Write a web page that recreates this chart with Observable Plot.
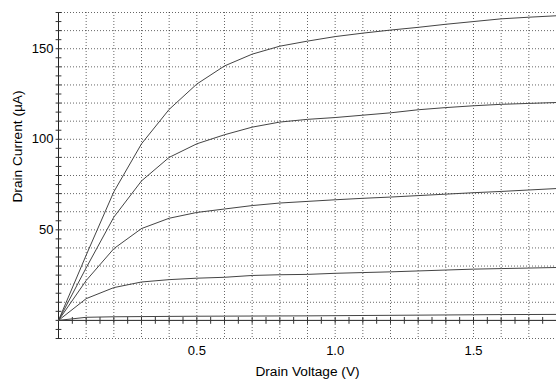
<!DOCTYPE html>
<html><head><meta charset="utf-8">
<script src="https://cdn.jsdelivr.net/npm/d3@7"></script>
<script src="https://cdn.jsdelivr.net/npm/@observablehq/plot@0.6"></script>
<style>html,body{margin:0;padding:0;background:#fff;}</style>
</head><body><div id="chart"></div>
<script>
// Drain voltage samples (V)
const vds = [0, 0.1, 0.2, 0.3, 0.4, 0.5, 0.6, 0.7, 0.8, 0.9, 1.0, 1.1, 1.2, 1.3, 1.4, 1.5, 1.6, 1.7, 1.8];
// Drain current curves (µA), top to bottom
const curve1 = [0, 36, 71, 97.5, 116.5, 130.5, 140.5, 147, 151.4, 154.2, 156.7, 158.6, 160.3, 161.8, 163.5, 165, 166.5, 167.4, 168.2];
const curve2 = [0, 29, 57, 77, 90, 97.5, 102.5, 106.7, 109.5, 111, 112, 113.3, 114.6, 116.3, 117.5, 118.5, 119.3, 119.8, 120.3];
const curve3 = [0, 22, 39.6, 50.7, 56.4, 59.6, 61.5, 63.4, 64.8, 65.7, 66.6, 67.4, 68.1, 68.9, 69.7, 70.5, 71.2, 72, 72.8];
const curve4 = [0, 12, 18.1, 21.2, 22.5, 23.3, 23.8, 24.8, 25.2, 25.4, 26, 26.4, 26.8, 27.3, 27.8, 28.3, 28.6, 28.9, 29.2];
const curve5 = [0, 1.7, 2.0, 2.1, 2.2, 2.3, 2.35, 2.4, 2.45, 2.5, 2.6, 2.7, 2.8, 2.9, 3.0, 3.1, 3.2, 3.25, 3.3];
const curves = [curve1, curve2, curve3, curve4, curve5];

// Tick labels
const xTickLabels = [0.5, 1.0, 1.5];
const yTickLabels = [50, 100, 150];
const xTitle = "Drain Voltage (V)";
const yTitle = "Drain Current (µA)";

// Grid and minor tick positions
const xGrid = d3.range(1, 19).map(k => k / 10);
const yGrid = d3.range(-1, 18).filter(k => k !== 0).map(k => k * 10);
const xMinor = d3.range(1, 37).map(k => k * 0.05);
const yMinor = d3.range(-2, 35).map(k => k * 5);

const rows = curves.flatMap((c, ci) => c.map((i, k) => ({v: vds[k], i, curve: ci})));

const tickShape = {draw(ctx, l) { ctx.moveTo(0, 0); ctx.lineTo(0, -l); }};
const gridStyle = {stroke: "#000", strokeDasharray: "1,2", strokeOpacity: 0.6};

const chart = Plot.plot({
  width: 556, height: 380,
  marginLeft: 58, marginRight: 0, marginTop: 12, marginBottom: 42,
  x: {domain: [0, 1.8]},
  y: {domain: [-10, 170]},
  style: {fontFamily: "'Liberation Sans', Arial, sans-serif", fontSize: "13px", color: "#000", background: "#fff"},
  marks: [
    Plot.ruleX(xGrid, gridStyle),
    Plot.ruleY(yGrid, gridStyle),
    Plot.ruleX([0], {stroke: "#222"}),
    Plot.ruleY([0], {stroke: "#222"}),
    Plot.vector(xMinor, {x: d => d, y: 0, length: 6, anchor: "middle", rotate: 0, shape: tickShape, stroke: "#333", strokeWidth: 1}),
    Plot.vector(yMinor, {x: 0, y: d => d, length: 5, anchor: "middle", rotate: 90, shape: tickShape, stroke: "#333", strokeWidth: 1}),
    Plot.line(rows, {x: "v", y: "i", z: "curve", stroke: "#444", strokeWidth: 1}),
    Plot.axisX({ticks: xTickLabels, tickSize: 0, tickPadding: 7, tickFormat: d3.format(".1f"), label: null, fontSize: 13}),
    Plot.axisY({ticks: yTickLabels, tickSize: 0, tickPadding: 5, label: null, fontSize: 13}),
    Plot.text([xTitle], {frameAnchor: "bottom", dy: 37, lineAnchor: "bottom", fontSize: 13.7}),
    Plot.text([yTitle], {frameAnchor: "left", textAnchor: "middle", dx: -41, dy: -29, rotate: -90, fontSize: 13.7})
  ]
});
document.getElementById("chart").appendChild(chart);
</script>
</body></html>
